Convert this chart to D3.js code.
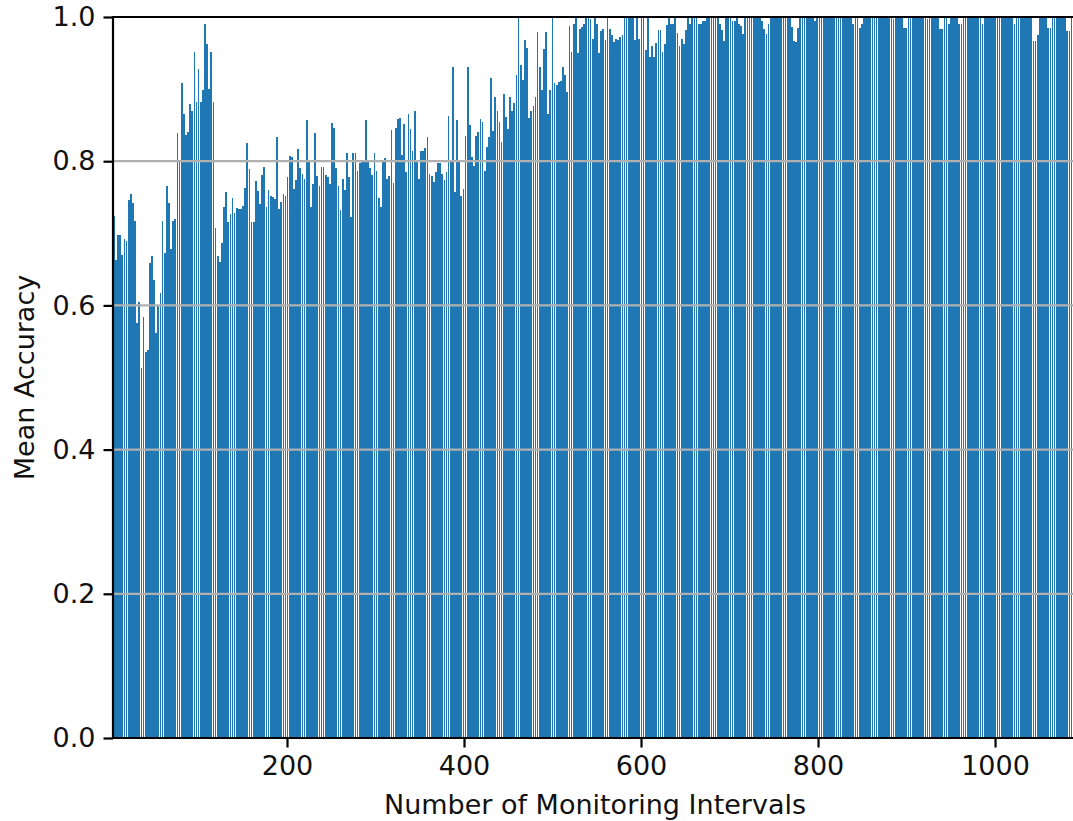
<!DOCTYPE html>
<html>
<head>
<meta charset="utf-8">
<script src="https://cdn.jsdelivr.net/npm/d3@7"></script>
<style>
  body { margin: 0; background: #fff; }
  svg { display: block; font-family: "DejaVu Sans", sans-serif; }
</style>
</head>
<body>
<script>
// monitoring intervals are sampled evenly; one bar per sample
const firstInterval = 4.6
const intervalStep = 2.394

const accuracy = [
  0.724, 0.663, 0.697, 0.697, 0.670, 0.692, 0.690, 0.746, 0.755, 0.742,
  0.717, 0.575, 0.605, 0.513, 0.584, 0.535, 0.538, 0.659, 0.668, 0.635,
  0.562, 0.600, 0.617, 0.717, 0.673, 0.765, 0.742, 0.678, 0.717, 0.720,
  0.839, 0.800, 0.909, 0.866, 0.836, 0.841, 0.879, 0.870, 0.952, 0.882,
  0.928, 0.882, 0.899, 0.990, 0.963, 0.900, 0.952, 0.882, 0.708, 0.668,
  0.660, 0.687, 0.736, 0.757, 0.716, 0.727, 0.749, 0.728, 0.735, 0.734, 0.734,
  0.738, 0.763, 0.825, 0.789, 0.716, 0.716, 0.773, 0.759, 0.740, 0.781,
  0.792, 0.736, 0.760, 0.752, 0.750, 0.748, 0.834, 0.734, 0.744, 0.754,
  0.752, 0.778, 0.807, 0.806,
  0.762, 0.774, 0.817, 0.790, 0.782, 0.776, 0.857, 0.800, 0.736, 0.768,
  0.839, 0.780, 0.765, 0.792, 0.792, 0.781, 0.778, 0.768, 0.853, 0.846,
  0.790, 0.765, 0.732, 0.776, 0.760, 0.811, 0.778, 0.722, 0.811, 0.811,
  0.787, 0.798, 0.800, 0.802, 0.857, 0.802, 0.790, 0.781, 0.811, 0.787,
  0.749, 0.736, 0.802, 0.805, 0.776, 0.780, 0.843, 0.770, 0.846, 0.859,
  0.860, 0.809, 0.852, 0.785, 0.865, 0.844, 0.814, 0.869, 0.800, 0.776,
  0.814, 0.814, 0.818, 0.833, 0.782, 0.780, 0.771, 0.785, 0.798, 0.798,
  0.782, 0.774, 0.785, 0.863, 0.800, 0.930, 0.757, 0.857, 0.800, 0.752,
  0.762, 0.835, 0.930, 0.850, 0.806, 0.793, 0.835, 0.840, 0.859, 0.855,
  0.787, 0.820, 0.833, 0.916, 0.842, 0.889, 0.870, 0.855, 0.827, 0.893,
  0.861, 0.844, 0.889, 0.870, 0.881, 0.920, 1.000, 0.933, 0.913, 0.968,
  0.957, 0.860, 0.870, 0.876, 0.889, 0.979, 0.930, 0.899, 0.955, 0.979,
  0.865, 0.899, 1.000, 0.908, 0.906, 0.910, 0.911, 0.930, 0.920, 0.896,
  0.988, 0.952, 0.990, 1.000, 0.950, 0.984, 0.986, 0.990, 1.000, 1.000,
  0.997, 0.970, 1.000, 0.990, 0.950, 0.980, 0.984, 0.968, 1.000, 0.984,
  0.975, 0.965, 0.970, 0.968, 0.972, 0.975, 1.000, 1.000, 1.000, 1.000,
  0.998, 0.968, 1.000, 0.970, 1.000, 1.000, 0.954, 1.000, 0.945, 0.960,
  0.945, 0.964, 0.982, 0.982, 0.952, 0.962, 0.989, 1.000, 0.990, 0.990,
  1.000, 0.978, 0.960, 0.970, 0.963, 0.982, 1.000, 0.990, 1.000, 1.000,
  1.000, 0.990, 0.990, 0.994, 0.994, 1.000, 1.000, 1.000, 1.000, 1.000,
  1.000, 0.990, 0.982, 0.967, 1.000, 1.000, 1.000, 0.995, 0.995, 1.000,
  0.990, 0.988, 0.977, 1.000, 1.000, 1.000, 1.000, 1.000, 1.000, 1.000,
  1.000, 0.995, 0.983, 0.977, 0.990, 1.000, 1.000, 1.000, 1.000, 1.000,
  1.000, 1.000, 1.000, 1.000, 1.000, 0.986, 0.967, 0.965, 0.985, 1.000,
  1.000, 1.000, 1.000, 1.000, 1.000, 1.000, 0.994, 1.000, 1.000, 1.000,
  1.000, 1.000, 1.000, 1.000, 1.000, 1.000, 1.000, 1.000, 1.000, 1.000,
  1.000, 1.000, 1.000, 1.000, 0.990, 1.000, 1.000, 0.985, 0.990, 1.000,
  1.000, 1.000, 1.000, 1.000, 1.000, 1.000, 1.000, 1.000, 1.000, 1.000,
  1.000, 1.000, 1.000, 0.997, 1.000, 1.000, 1.000, 1.000, 0.985, 0.985,
  1.000, 1.000, 1.000, 1.000, 1.000, 1.000, 1.000, 1.000, 1.000, 0.997,
  1.000, 1.000, 1.000, 1.000, 1.000, 0.983, 0.983, 1.000, 1.000, 0.990,
  1.000, 1.000, 1.000, 1.000, 0.990, 0.990, 1.000, 1.000, 1.000, 1.000,
  1.000, 1.000, 1.000, 1.000, 1.000, 0.990, 1.000, 1.000, 1.000, 1.000,
  1.000, 1.000, 1.000, 1.000, 1.000, 1.000, 1.000, 1.000, 1.000, 1.000,
  0.990, 1.000, 1.000, 1.000, 1.000, 1.000, 1.000, 1.000, 1.000, 0.967,
  0.967, 0.975, 1.000, 1.000, 1.000, 1.000, 0.985, 0.985, 1.000, 1.000,
  1.000, 1.000, 1.000, 1.000, 1.000, 0.980, 0.980, 1.000, 1.000, 1.000
]

const xTicks = [200, 400, 600, 800, 1000]
const yTicks = [0, 0.2, 0.4, 0.6, 0.8, 1.0]
const xLabel = "Number of Monitoring Intervals"
const yLabel = "Mean Accuracy"

const width = 1073
const height = 821
const plot = { left: 113, right: 1077, top: 17, bottom: 738 }
const fontSize = 27
const textColor = "#111"

const data = accuracy.map((v, i) => ({ interval: firstInterval + i * intervalStep, value: v }))

const x = d3.scaleLinear().domain([3.4, 1092.6]).range([plot.left, plot.right])
const y = d3.scaleLinear().domain([0, 1]).range([plot.bottom, plot.top])

const svg = d3.select("body").append("svg")
  .attr("width", width)
  .attr("height", height)

svg.append("defs").append("clipPath")
  .attr("id", "plot-clip")
  .append("rect")
  .attr("x", plot.left)
  .attr("y", plot.top)
  .attr("width", plot.right - plot.left)
  .attr("height", plot.bottom - plot.top)

const barW = x(intervalStep) - x(0)

svg.append("g")
  .attr("clip-path", "url(#plot-clip)")
  .selectAll("rect")
  .data(data)
  .join("rect")
  .attr("x", d => x(d.interval) - barW / 2)
  .attr("width", barW - 0.4)
  .attr("y", d => y(d.value))
  .attr("height", d => y(0) - y(d.value))
  .attr("fill", "#1f77b4")
  .attr("shape-rendering", "crispEdges")

// horizontal grid, drawn over the bars like matplotlib does
svg.append("g")
  .selectAll("line")
  .data(yTicks)
  .join("line")
  .attr("x1", plot.left)
  .attr("x2", plot.right)
  .attr("y1", d => y(d))
  .attr("y2", d => y(d))
  .attr("stroke", "#b0b0b0")
  .attr("stroke-width", 2.2)

const xAxis = svg.append("g")
  .attr("transform", `translate(0,${plot.bottom})`)
  .call(d3.axisBottom(x).tickValues(xTicks).tickSize(9.5).tickPadding(8).tickFormat(d3.format("d")))

const yAxis = svg.append("g")
  .attr("transform", `translate(${plot.left},0)`)
  .call(d3.axisLeft(y).tickValues(yTicks).tickSize(9.5).tickPadding(8).tickFormat(d3.format(".1f")))

for (const ax of [xAxis, yAxis]) {
  ax.select(".domain").remove()
  ax.selectAll(".tick line").attr("stroke", "#000").attr("stroke-width", 2.2)
  ax.selectAll(".tick text")
    .attr("fill", textColor)
    .attr("font-size", fontSize)
    .attr("font-family", "DejaVu Sans, sans-serif")
}

// spines (right one falls just outside the cropped picture)
const spines = [
  [plot.left, plot.top, plot.right, plot.top],
  [plot.left, plot.bottom, plot.right, plot.bottom],
  [plot.left, plot.top, plot.left, plot.bottom],
  [plot.right, plot.top, plot.right, plot.bottom]
]
svg.append("g")
  .selectAll("line")
  .data(spines)
  .join("line")
  .attr("x1", d => d[0]).attr("y1", d => d[1])
  .attr("x2", d => d[2]).attr("y2", d => d[3])
  .attr("stroke", "#000")
  .attr("stroke-width", 2.2)
  .attr("stroke-linecap", "square")

svg.append("text")
  .attr("x", (plot.left + plot.right) / 2)
  .attr("y", 814)
  .attr("text-anchor", "middle")
  .attr("font-size", fontSize)
  .attr("fill", textColor)
  .text(xLabel)

svg.append("text")
  .attr("transform", `translate(34,${(plot.top + plot.bottom) / 2}) rotate(-90)`)
  .attr("text-anchor", "middle")
  .attr("font-size", fontSize)
  .attr("fill", textColor)
  .text(yLabel)
</script>
</body>
</html>
